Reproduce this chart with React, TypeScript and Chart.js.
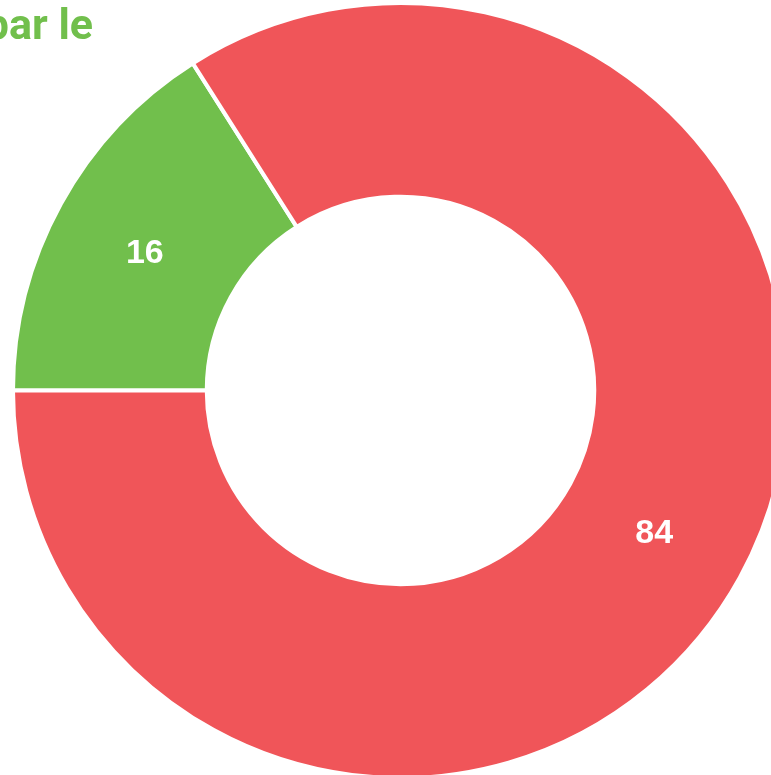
import React, { useEffect, useRef } from "react";
import { Chart, registerables } from "chart.js";

Chart.register(...registerables);

const labels = ["Vert", "Rouge"];
const values = [16, 84];
const colors = ["#71BF4C", "#F05559"];
const titleText = "par le";

const valueLabelPlugin = {
  id: "valueLabels",
  afterDatasetsDraw(chart: any) {
    const ctx = chart.ctx;
    const meta = chart.getDatasetMeta(0);
    ctx.save();
    ctx.fillStyle = "#ffffff";
    ctx.font = "bold 34px \"Liberation Sans\", Arial, sans-serif";
    ctx.textAlign = "center";
    ctx.textBaseline = "middle";
    meta.data.forEach((arc: any, i: number) => {
      const p = arc.tooltipPosition();
      ctx.fillText(String(chart.data.datasets[0].data[i]), p.x - 1, p.y + 3);
    });
    ctx.restore();
  },
};

const titlePlugin = {
  id: "clippedTitle",
  afterDraw(chart: any) {
    const ctx = chart.ctx;
    ctx.save();
    ctx.fillStyle = "#71BF4C";
    ctx.font = "bold 43px Roboto, \"Liberation Sans\", Arial, sans-serif";
    ctx.textAlign = "right";
    ctx.textBaseline = "alphabetic";
    ctx.fillText(titleText, 93, 39);
    ctx.restore();
  },
};

export default function App() {
  const ref = useRef<HTMLCanvasElement | null>(null);
  useEffect(() => {
    if (!ref.current) return;
    const chart = new Chart(ref.current, {
      type: "doughnut",
      data: {
        labels,
        datasets: [
          {
            data: values,
            backgroundColor: colors,
            borderColor: "#ffffff",
            borderWidth: 4,
            hoverOffset: 0,
          },
        ],
      },
      options: {
        responsive: false,
        animation: false,
        rotation: -90,
        cutout: "50%",
        layout: { padding: { left: 11, right: 10, top: 1, bottom: 0 } },
        plugins: {
          legend: { display: false },
          tooltip: { enabled: false },
          title: { display: false },
        },
      },
      plugins: [valueLabelPlugin, titlePlugin],
    });
    return () => chart.destroy();
  }, []);
  return (
    <div
      style={{
        position: "fixed",
        left: 0,
        top: 0,
        width: 771,
        height: 775,
        overflow: "hidden",
        background: "#ffffff",
      }}
    >
      <canvas
        ref={ref}
        width={800}
        height={780}
        style={{ position: "absolute", left: 0, top: 0, width: 800, height: 780 }}
      />
    </div>
  );
}
